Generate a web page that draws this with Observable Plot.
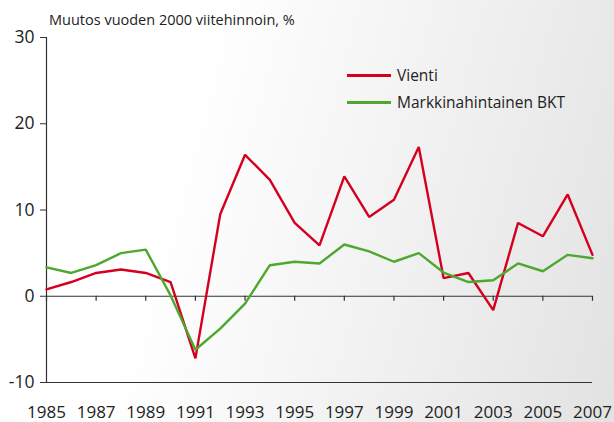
<!DOCTYPE html>
<html>
<head>
<meta charset="utf-8">
<script src="https://cdn.jsdelivr.net/npm/d3@7"></script>
<script src="https://cdn.jsdelivr.net/npm/@observablehq/plot@0.6"></script>
<style>
  html, body { margin: 0; padding: 0; }
  body { width: 614px; height: 422px; overflow: hidden;
    background: linear-gradient(105deg, #ffffff 30%, #eeeeee 72%, #e2e2e2 100%);
    font-family: "Open Sans", sans-serif; color: #222; }
  #wrap { position: relative; width: 614px; height: 422px; }
  #wrap svg { position: absolute; left: 0; top: 0; background: transparent; overflow: visible; }
  .title { position: absolute; left: 49px; top: 10px; font-size: 14.5px; color: #222; white-space: nowrap; }
  .leg { position: absolute; left: 347px; font-size: 15.5px; color: #222; white-space: nowrap; display: flex; align-items: center; }
  .leg span.sw { display: inline-block; width: 44px; height: 3px; margin-right: 6px; }
</style>
</head>
<body>
<div id="wrap"></div>
<script>
const years = d3.range(1985, 2008);
const vienti = [0.8, 1.65, 2.7, 3.1, 2.7, 1.65, -7.2, 9.5, 16.4, 13.5, 8.5, 5.9, 13.9, 9.2, 11.2, 17.3, 2.1, 2.7, -1.6, 8.5, 6.95, 11.8, 4.8];
const bkt = [3.35, 2.7, 3.6, 5.0, 5.4, 0.1, -6.2, -3.75, -0.85, 3.6, 4.0, 3.8, 6.0, 5.2, 4.0, 5.0, 2.75, 1.65, 1.85, 3.8, 2.9, 4.8, 4.4];
const xTicks = [1985, 1987, 1989, 1991, 1993, 1995, 1997, 1999, 2001, 2003, 2005, 2007];
const yTicks = [-10, 0, 10, 20, 30];
const seriesNames = ["Vienti", "Markkinahintainen BKT"];
const colors = ["#d4001e", "#4ea72e"];
const title = "Muutos vuoden 2000 viitehinnoin, %";

const rows = [];
years.forEach((y, i) => {
  rows.push({year: y, value: vienti[i], series: seriesNames[0]});
  rows.push({year: y, value: bkt[i], series: seriesNames[1]});
});

const chart = Plot.plot({
  width: 614,
  height: 422,
  marginLeft: 46,
  marginRight: 22,
  marginTop: 37,
  marginBottom: 40,
  style: {background: "transparent", fontFamily: "Open Sans, sans-serif", color: "#222", overflow: "visible"},
  x: {domain: [1985, 2007]},
  y: {domain: [-10, 30]},
  color: {domain: seriesNames, range: colors},
  marks: [
    Plot.axisY({ticks: yTicks, tickSize: 6, tickPadding: 6, fontSize: 17.5, label: null, stroke: "#333", color: "#222", tickFormat: d => String(d)}),
    Plot.axisX({ticks: xTicks, tickSize: 0, tickPadding: 23, fontSize: 17, label: null, tickFormat: d => String(d), color: "#222"}),
    Plot.ruleX([1985], {stroke: "#333", strokeWidth: 1.2}),
    Plot.ruleY([0, -10], {stroke: "#333", strokeWidth: 1.2}),
    Plot.ruleX(xTicks, {x: d => d, y1: 0, y2: 0, insetBottom: -5, stroke: "#333", strokeWidth: 1.2}),
    Plot.line(rows, {x: "year", y: "value", stroke: "series", z: "series", strokeWidth: 2.4, strokeLinejoin: "miter"})
  ]
});
const wrap = document.getElementById("wrap");
wrap.appendChild(chart);

const t = document.createElement("div");
t.className = "title";
t.textContent = title;
wrap.appendChild(t);

const legTops = [64, 91];
seriesNames.forEach((n, i) => {
  const d = document.createElement("div");
  d.className = "leg";
  d.style.top = legTops[i] + "px";
  const sw = document.createElement("span");
  sw.className = "sw";
  sw.style.background = colors[i];
  d.appendChild(sw);
  const tx = document.createElement("span");
  tx.textContent = n;
  d.appendChild(tx);
  wrap.appendChild(d);
});
</script>
</body>
</html>
